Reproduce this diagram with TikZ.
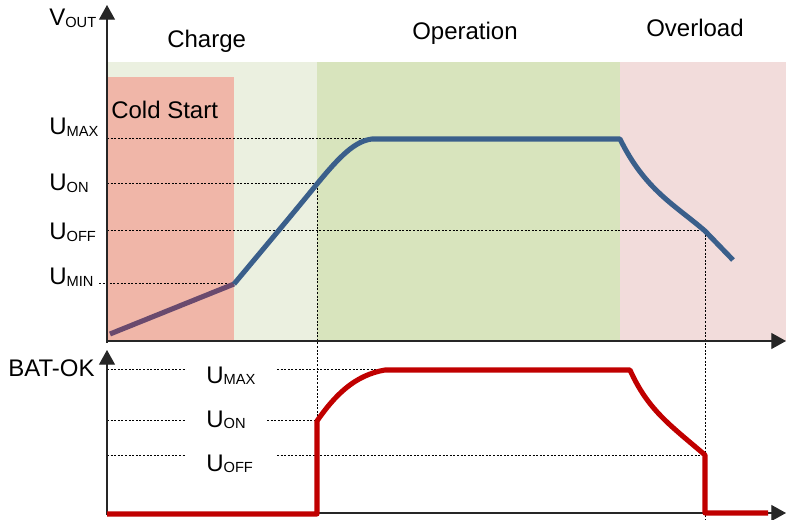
\documentclass[tikz,border=0pt]{standalone}
\usepackage{fontspec}
\setmainfont{Liberation Sans}
\usetikzlibrary{arrows.meta}

\definecolor{chargefill}{RGB}{235,240,224}
\definecolor{coldfill}{RGB}{240,182,168}
\definecolor{opfill}{RGB}{216,228,189}
\definecolor{overfill}{RGB}{242,220,219}
\definecolor{vblue}{RGB}{58,95,139}
\definecolor{vpurple}{RGB}{106,74,110}
\definecolor{okred}{RGB}{192,0,0}

% main label with a smaller subscript set on (nearly) the same baseline
\newcommand{\lbl}[2]{#1\raisebox{-0.06em}{\fontsize{11}{12}\selectfont #2}}

\tikzset{
  txt/.style={font=\fontsize{18}{20}\selectfont, inner sep=0pt, anchor=base west},
  axis/.style={line width=0.8pt, draw=black!85, -{Triangle[length=11pt,width=12pt]}},
  guide/.style={line width=0.75pt, dash pattern=on 1.5pt off 1.2pt, draw=black},
  vout/.style={line width=3.8pt, draw=vblue},
  okline/.style={line width=3.8pt, draw=okred, line join=round}
}

\begin{document}
\begin{tikzpicture}[x=0.75pt,y=-0.75pt]
\useasboundingbox (0,0) rectangle (786,520);

% operating regions
\fill[chargefill] (107,62) rectangle (317,341);
\fill[coldfill]   (107,77) rectangle (234,341);
\fill[opfill]     (317,62) rectangle (620,341);
\fill[overfill]   (620,62) rectangle (786,341);

% region titles
\node[txt] (charge) at (167,48) {Charge};
\node[txt] (cold)   at (111,119) {Cold Start};
\node[txt] (oper)   at (412,40) {Operation};
\node[txt] (over)   at (646,37) {Overload};

% threshold guides, upper chart
\draw[guide] (107,139) -- (372,139);
\draw[guide] (107,184) -- (317,184);
\draw[guide] (107,231) -- (705,231);
\draw[guide] (99,284) -- (234,284);

% threshold guides, lower chart
\draw[guide] (107,370) -- (185,370) (277,370) -- (630,370);
\draw[guide] (107,421) -- (185,421) (267,421) -- (317,421);
\draw[guide] (107,455) -- (185,455) (277,455) -- (705,455);

% switching instants
\draw[guide] (317,184) -- (317,514);
\draw[guide] (705,231) -- (705,520);

% axes
\draw[axis] (107,343) -- (107,5);
\draw[axis] (107,341) -- (786,341);
\draw[axis] (107,515) -- (107,350);
\draw[axis] (107,513) -- (786,513);

% axis and level labels
\node[txt] (vlab)  at (49,26)  {\lbl{V}{OUT}};
\node[txt] (umax)  at (49,135) {\lbl{U}{MAX}};
\node[txt] (uon)   at (49,191) {\lbl{U}{ON}};
\node[txt] (uoff)  at (49,240) {\lbl{U}{OFF}};
\node[txt] (umin)  at (49,285) {\lbl{U}{MIN}};

\node[txt] (batok) at (8,377)   {BAT-OK};
\node[txt] (bmax)  at (206,383) {\lbl{U}{MAX}};
\node[txt] (bon)   at (206,427) {\lbl{U}{ON}};
\node[txt] (boff)  at (206,471) {\lbl{U}{OFF}};

% output voltage
\draw[line width=3.8pt, draw=vpurple] (110,334) -- (234,284);
\draw[vout, line join=round]
  (234,284) .. controls (265,247) and (300,205) .. (317,184)
            .. controls (340,156) and (355,141) .. (372,139)
  -- (620,139)
            .. controls (645,190) and (675,205) .. (705,231)
  -- (733,260);

% BAT-OK signal
\draw[okline]
  (107,514) -- (317,514) -- (317,421)
            .. controls (335,395) and (355,375) .. (385,370)
  -- (630,370)
            .. controls (648,410) and (670,425) .. (705,455)
  -- (705,513) -- (768,513);
\end{tikzpicture}
\end{document}
